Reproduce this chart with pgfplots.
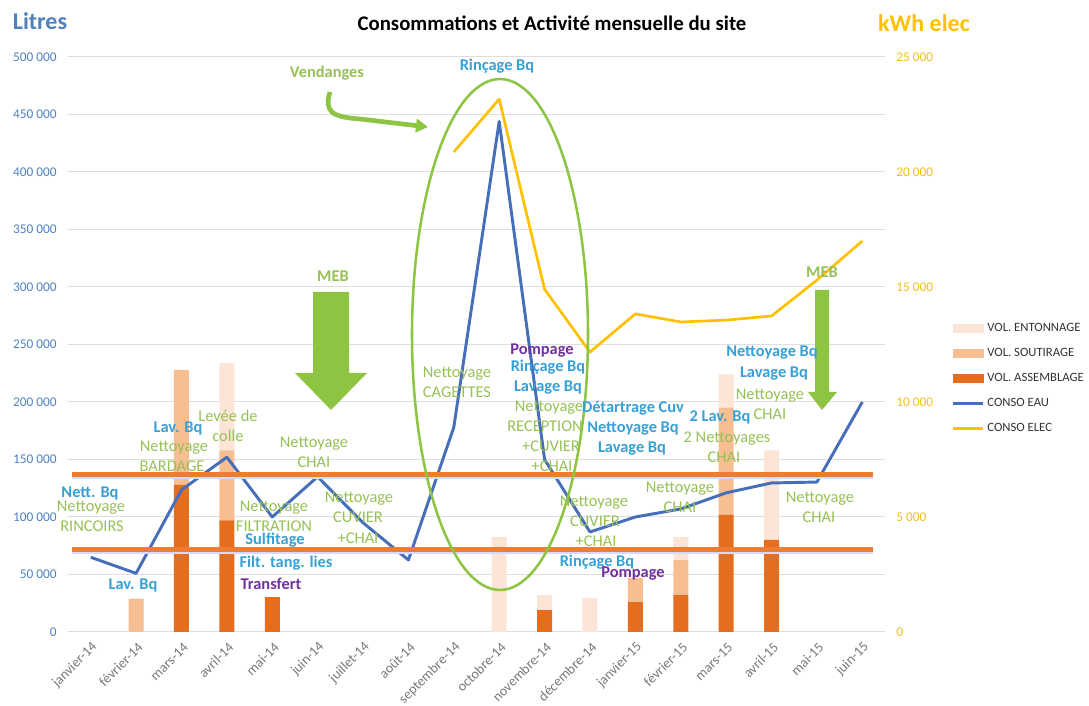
\documentclass[border=0pt]{standalone}
\usepackage{fontspec}
\setmainfont{Carlito}
\usepackage{pgfplots}
\usepackage{pgfplotstable}
\pgfplotsset{compat=1.18}
\usetikzlibrary{arrows.meta}

\definecolor{ent}{RGB}{252,228,214}
\definecolor{sout}{RGB}{247,190,145}
\definecolor{ass}{RGB}{229,109,30}
\definecolor{eau}{RGB}{70,110,185}
\definecolor{elec}{RGB}{255,192,0}
\definecolor{gtxt}{RGB}{150,193,85}
\definecolor{garr}{RGB}{141,196,66}
\definecolor{btxt}{RGB}{55,160,215}
\definecolor{ptxt}{RGB}{112,48,160}
\definecolor{oline}{RGB}{237,125,49}
\definecolor{ltick}{RGB}{79,129,189}
\definecolor{rtick}{RGB}{242,190,30}
\definecolor{gridc}{RGB}{222,222,222}
\definecolor{xlab}{RGB}{120,120,120}

\pgfplotstableread{
x ass sout ent eau
0 0 0 0 65000
1 0 29000 0 51000
2 128000 100000 0 123500
3 97000 61000 76000 152000
4 30400 0 0 100000
5 0 0 0 135000
6 0 0 0 95000
7 0 0 0 62600
8 0 0 0 178000
9 0 0 82600 444000
10 19000 0 13000 150000
11 0 0 29500 87000
12 26000 21000 0 100000
13 32000 30500 20000 107000
14 102000 93000 29000 121000
15 80000 0 78000 129600
16 0 0 0 130400
17 0 0 0 200000
}\data

\pgfplotstableread{
x elec
8 20870
9 23170
10 14900
11 12170
12 13830
13 13480
14 13560
15 13740
16 15300
17 17000
}\elecdata

\newcommand{\annf}{\fontsize{12.3}{15}\selectfont}

\begin{document}
\begin{tikzpicture}
\useasboundingbox (-51pt,-55.5pt) rectangle (765.75pt,474pt);

\pgfplotsset{common/.style={scale only axis, width=612.75pt, height=431.25pt,
  xmin=-0.5, xmax=17.5, enlargelimits=false, scaled ticks=false}}

% Axis 1: stacked bars, grid, left ticks, x labels
\begin{axis}[common,
  ymin=0, ymax=500000,
  ybar stacked, bar width=11.25pt,
  axis line style={draw=none}, tick style={draw=none},
  xtick={0,...,17},
  xticklabels={janvier-14,février-14,mars-14,avril-14,mai-14,juin-14,juillet-14,août-14,septembre-14,octobre-14,novembre-14,décembre-14,janvier-15,février-15,mars-15,avril-15,mai-15,juin-15},
  xticklabel style={xshift=4pt, yshift=-9pt, rotate=45, anchor=east, font=\fontsize{10.5}{12}\selectfont, text=xlab, inner sep=1pt},
  ytick={0,50000,...,500000},
  yticklabels={0,50 000,100 000,150 000,200 000,250 000,300 000,350 000,400 000,450 000,500 000},
  yticklabel style={font=\fontsize{10}{12}\selectfont, text=ltick, xshift=-5pt},
  ymajorgrids, grid style={gridc, line width=0.75pt},
]
\addplot[fill=ass, draw=none] table[x=x, y=ass]{\data};
\addplot[fill=sout, draw=none] table[x=x, y=sout]{\data};
\addplot[fill=ent, draw=none] table[x=x, y=ent]{\data};
\end{axis}

% Axis 2: water line
\begin{axis}[common, ymin=0, ymax=500000, hide axis]
\addplot[eau, line width=2.2pt, line join=round] table[x=x, y=eau]{\data};
\end{axis}

% Axis 3: electricity, right ticks, legend
\begin{axis}[common, ymin=0, ymax=25000,
  axis x line=none, axis y line*=right,
  axis line style={draw=none}, tick style={draw=none},
  ytick={0,5000,...,25000},
  yticklabels={0,5 000,10 000,15 000,20 000,25 000},
  yticklabel style={font=\fontsize{10}{12}\selectfont, text=rtick, anchor=west, xshift=5pt},
  legend cell align=left,
  legend style={at={(1.081,0.539)}, anchor=north west, draw=none, fill=none,
    font=\fontsize{9.5}{11}\selectfont, text=black!80, row sep=9.75pt, inner sep=0pt,
    nodes={inner sep=0.5pt, text height=6.5pt, text depth=1.5pt},
    /tikz/every odd column/.append style={column sep=2pt}},
]
\addlegendimage{legend image code/.code={\fill[ent] (0pt,-2.8pt) rectangle (22.5pt,2.8pt);}}
\addlegendentry{VOL. ENTONNAGE}
\addlegendimage{legend image code/.code={\fill[sout] (0pt,-2.8pt) rectangle (22.5pt,2.8pt);}}
\addlegendentry{VOL. SOUTIRAGE}
\addlegendimage{legend image code/.code={\fill[ass] (0pt,-2.8pt) rectangle (22.5pt,2.8pt);}}
\addlegendentry{VOL. ASSEMBLAGE}
\addlegendimage{legend image code/.code={\draw[eau, line width=2pt] (0pt,0pt) -- (22.5pt,0pt);}}
\addlegendentry{CONSO EAU}
\addplot[elec, line width=2pt, line join=round, legend image code/.code={\draw[elec, line width=2pt] (0pt,0pt) -- (22.5pt,0pt);}] table[x=x, y=elec]{\elecdata};
\addlegendentry{CONSO ELEC}
\end{axis}

% Annotations in pixel coordinates of the reference
\begin{scope}[x=0.75pt, y=-0.75pt, shift={(-51pt,474pt)}]
  % horizontal orange lines
  \draw[blue!15, line width=1.2pt] (72,478) -- (873,478);
  \draw[blue!15, line width=1.2pt] (72,553) -- (873,553);
  \draw[oline, line width=3.75pt] (72,475) -- (873,475);
  \draw[oline, line width=3.75pt] (72,550) -- (873,550);
  % ellipse
  \draw[garr, line width=1.9pt] (500,334.5) ellipse [x radius=66pt, y radius=191.6pt];
  % MEB arrows
  \fill[garr] (313,292) -- (349,292) -- (349,373) -- (367,373) -- (331,410) -- (295,373) -- (313,373) -- cycle;
  \fill[garr] (815,290) -- (829,290) -- (829,392) -- (837,392) -- (822,410) -- (808,392) -- (815,392) -- cycle;
  % Vendanges arrow
  \draw[garr, line width=3.5pt, -{Triangle[length=9pt,width=10pt]}] (330,92) .. controls (324,112) and (332,117) .. (360,119) -- (428,127);

  \tikzset{g/.style={text=gtxt, font=\annf, anchor=base, inner sep=0pt},
           gb/.style={text=gtxt, font=\annf\bfseries, anchor=base, inner sep=0pt},
           b/.style={text=btxt, font=\annf\bfseries, anchor=base, inner sep=0pt},
           p/.style={text=ptxt, font=\annf\bfseries, anchor=base, inner sep=0pt}}

  % titles
  \node[anchor=base, font=\fontsize{15.6}{18}\selectfont\bfseries] at (552,31) {Consommations et Activité mensuelle du site};
  \node[anchor=base, text=ltick, font=\fontsize{18}{21}\selectfont\bfseries] at (40,30) {Litres};
  \node[anchor=base, text=elec, font=\fontsize{18}{21}\selectfont\bfseries] at (924,32) {kWh elec};

  % green
  \node[gb] at (327,78) {Vendanges};
  \node[gb] at (333,282) {MEB};
  \node[gb] at (822,278) {MEB};
  \node[g] at (91,512) {Nettoyage};   \node[g] at (92,532) {RINCOIRS};
  \node[g] at (174,452) {Nettoyage};  \node[g] at (172,472) {BARDAGE};
  \node[g] at (228,422) {Levée de};   \node[g] at (228,442) {colle};
  \node[g] at (274,512) {Nettoyage};  \node[g] at (274,532) {FILTRATION};
  \node[g] at (314,448) {Nettoyage};  \node[g] at (314,468) {CHAI};
  \node[g] at (359,503) {Nettoyage};  \node[g] at (358,523) {CUVIER}; \node[g] at (358,544) {+CHAI};
  \node[g] at (457,378) {Nettoyage};  \node[g] at (457,398) {CAGETTES};
  \node[g] at (549,412) {Nettoyage};  \node[g] at (545,432) {RECEPTION};
  \node[g] at (551,452) {+CUVIER};    \node[g] at (552,472) {+CHAI};
  \node[g] at (594,507) {Nettoyage};  \node[g] at (595,527) {CUVIER}; \node[g] at (596,547) {+CHAI};
  \node[g] at (680,493) {Nettoyage};  \node[g] at (680,513) {CHAI};
  \node[g] at (727,443) {2 Nettoyages}; \node[g] at (724,463) {CHAI};
  \node[g] at (770,400) {Nettoyage};  \node[g] at (770,420) {CHAI};
  \node[g] at (820,503) {Nettoyage};  \node[g] at (819,523) {CHAI};

  % blue
  \node[b] at (497,71) {Rinçage Bq};
  \node[b] at (90,498) {Nett. Bq};
  \node[b] at (133,590) {Lav. Bq};
  \node[b] at (178,433) {Lav. Bq};
  \node[b] at (275,545) {Sulfitage};
  \node[b] at (286,568) {Filt. tang. lies};
  \node[b] at (548,372) {Rinçage Bq};
  \node[b] at (548,392) {Lavage Bq};
  \node[b] at (633,413) {Détartrage Cuv};
  \node[b] at (633,433) {Nettoyage Bq};
  \node[b] at (632,453) {Lavage Bq};
  \node[b] at (597,567) {Rinçage Bq};
  \node[b] at (720,422) {2 Lav. Bq};
  \node[b] at (772,357) {Nettoyage Bq};
  \node[b] at (774,378) {Lavage Bq};

  % purple
  \node[p] at (271,590) {Transfert};
  \node[p] at (542,355) {Pompage};
  \node[p] at (633,578) {Pompage};
\end{scope}
\end{tikzpicture}
\end{document}
